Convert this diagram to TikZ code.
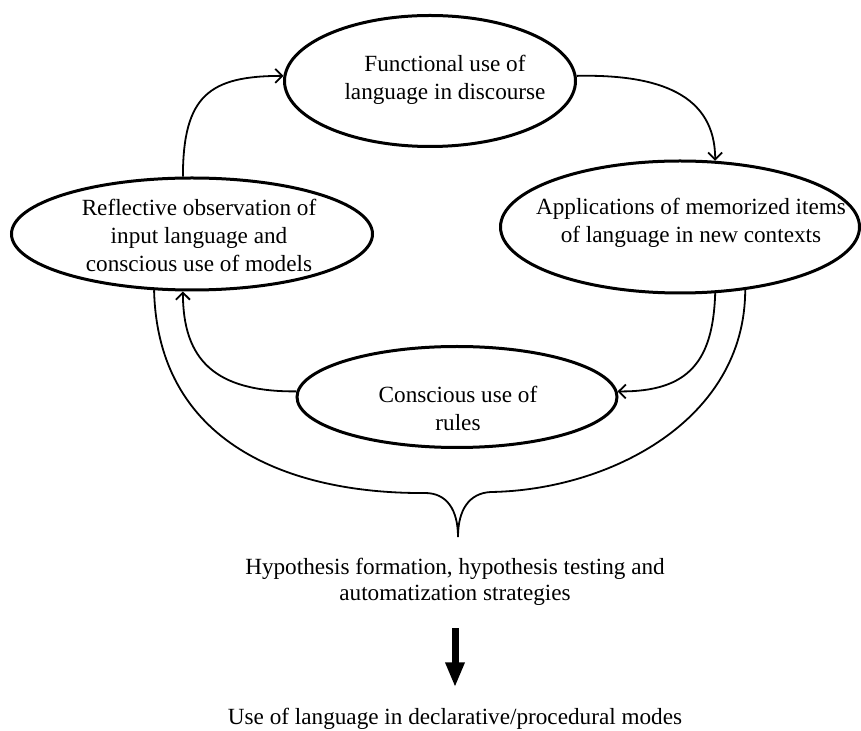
\documentclass[tikz,border=0pt]{standalone}
\usepackage{fontspec}
\setmainfont{Liberation Serif}
\usetikzlibrary{shapes.geometric,arrows.meta}
\begin{document}
\begin{tikzpicture}[x=0.5pt,y=-0.5pt,
  bubble/.style={ellipse,draw,line width=1.5pt,inner sep=0pt},
  caption/.style={align=center,inner sep=0pt,font=\fontsize{11.6pt}{14pt}\selectfont},
  flow/.style={line width=0.9pt,-{Straight Barb[length=3.5pt,width=7pt]}},
  link/.style={line width=0.9pt},
  bigarrow/.style={line width=3.5pt,-{Triangle[length=12.5pt,width=9pt]}},
]
\useasboundingbox (0,0) rectangle (861,731);

% the four stages of the cycle
\node[bubble,minimum width=145.5pt,minimum height=65.5pt] (T) at (430,81) {};
\node[bubble,minimum width=180.5pt,minimum height=56pt] (L) at (192,234) {};
\node[bubble,minimum width=179.5pt,minimum height=66pt] (R) at (680,227) {};
\node[bubble,minimum width=160pt,minimum height=50.5pt] (B) at (457,397) {};

\node[caption] (Ttext) at (445,80) {Functional use of\\language in discourse};
\node[caption] (Ltext) at (199,235) {Reflective observation of\\input language and\\conscious use of models};
\node[caption] (Rtext) at (691,223) {Applications of memorized items\\of language in new contexts};
\node[caption] (Btext) at (458,408) {Conscious use of\\rules};

% outcome texts
\node[caption,font=\fontsize{11.6pt}{13pt}\selectfont] (H) at (455,582) {Hypothesis formation, hypothesis testing and\\automatization strategies};
\node[caption,anchor=base] (U) at (455,724) {Use of language in declarative/procedural modes};

% cycle arrows
\draw[flow] (L.99) .. controls (183,95) and (210,76) .. (T.178);
\draw[flow] (T.2) .. controls (660,74) and (715,95) .. (R.62);
\draw[flow] (R.298) .. controls (713,360) and (690,392) .. (B.2);
\draw[flow] (B.178) .. controls (215,392) and (183,360) .. (L.261);

% brace gathering the cycle
\coordinate (cusp) at (458,537);
\draw[link] (L.236) .. controls (158,450) and (300,494) .. (425,493)
  .. controls (447,493) and (458,510) .. (cusp)
  .. controls (458,510) and (469,493) .. (491,492)
  .. controls (610,490) and (745,420) .. (R.316);

% result arrow
\draw[bigarrow,shorten <=11pt,shorten >=10pt] (H.south) -- (U.north);
\end{tikzpicture}
\end{document}
